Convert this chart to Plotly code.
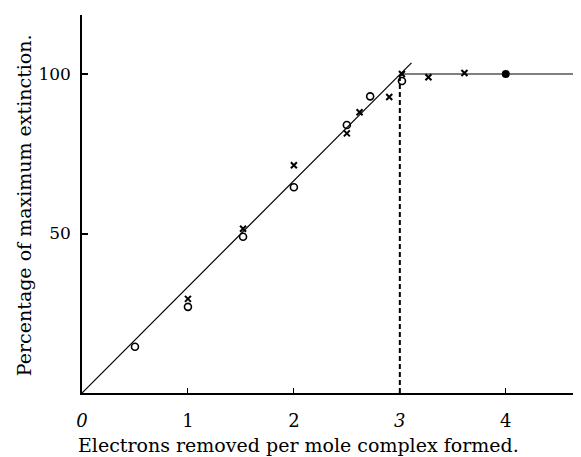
import plotly.graph_objects as go

circle_x = [0.5, 1.0, 1.52, 2.0, 2.5, 2.72, 3.02]
circle_y = [14.5, 27.0, 49.0, 64.5, 84.0, 93.0, 97.8]
cross_x = [1.0, 1.52, 2.0, 2.5, 2.62, 2.9, 3.02, 3.27, 3.61]
cross_y = [29.5, 51.5, 71.4, 81.4, 88.0, 92.8, 100.0, 99.0, 100.3]
filled_x = [4.0]
filled_y = [100.0]

fit_x = [0.0, 3.11]
fit_y = [0.0, 103.5]
plateau_x = [3.0, 4.75]
plateau_y = [100.0, 100.0]
break_x = [3.0, 3.0]
break_y = [0.0, 99.0]

x_ticks = [0, 1, 2, 3, 4]
x_ticktext = ["<i>0</i>", "1", "2", "<i>3</i>", "4"]
y_ticks = [50, 100]
y_ticktext = ["50", "100"]

x_title = "Electrons removed per mole complex formed."
y_title = "Percentage of maximum extinction."

serif = "DejaVu Serif, Liberation Serif, serif"

fig = go.Figure()
fig.add_trace(go.Scatter(x=fit_x, y=fit_y, mode="lines",
                         line=dict(color="black", width=1.2), showlegend=False))
fig.add_trace(go.Scatter(x=plateau_x, y=plateau_y, mode="lines",
                         line=dict(color="black", width=1.2), showlegend=False))
fig.add_trace(go.Scatter(x=break_x, y=break_y, mode="lines",
                         line=dict(color="black", width=2, dash="5px,3px"), showlegend=False))
fig.add_trace(go.Scatter(x=circle_x, y=circle_y, mode="markers",
                         marker=dict(symbol="circle-open", size=7, color="black",
                                     line=dict(width=1.6, color="black")),
                         showlegend=False))
fig.add_trace(go.Scatter(x=cross_x, y=cross_y, mode="markers",
                         marker=dict(symbol="x-thin", size=6, color="black",
                                     line=dict(width=2, color="black")),
                         showlegend=False))
fig.add_trace(go.Scatter(x=filled_x, y=filled_y, mode="markers",
                         marker=dict(symbol="circle", size=8, color="black"),
                         showlegend=False))

fig.add_annotation(text=x_title, xref="paper", yref="paper", x=0.433, y=0,
                   xanchor="center", yanchor="middle", yshift=-52, showarrow=False,
                   font=dict(family=serif, size=19, color="black"))
fig.add_annotation(text=y_title, xref="paper", yref="paper", x=0, y=0.497,
                   xanchor="center", yanchor="middle", xshift=-58, showarrow=False,
                   textangle=-90, font=dict(family=serif, size=19, color="black"))

fig.update_layout(
    width=573, height=449,
    margin=dict(l=74, r=0, t=7, b=64, autoexpand=False),
    paper_bgcolor="white", plot_bgcolor="white",
    font=dict(family=serif, color="black", size=17),
    xaxis=dict(range=[0, 4.71], tickvals=x_ticks, ticktext=x_ticktext,
               ticks="inside", ticklen=5, tickwidth=1.2, tickcolor="black",
               showline=True, linecolor="black", linewidth=1.8,
               showgrid=False, zeroline=False, ticklabelstandoff=10,
               tickfont=dict(size=18, family=serif)),
    yaxis=dict(range=[0, 118.5], tickvals=y_ticks, ticktext=y_ticktext,
               ticks="inside", ticklen=6, tickwidth=1.5, tickcolor="black",
               showline=True, linecolor="black", linewidth=1.5,
               showgrid=False, zeroline=False, ticklabelstandoff=6,
               tickfont=dict(size=17, family=serif)),
)

fig.write_html("out.html")
